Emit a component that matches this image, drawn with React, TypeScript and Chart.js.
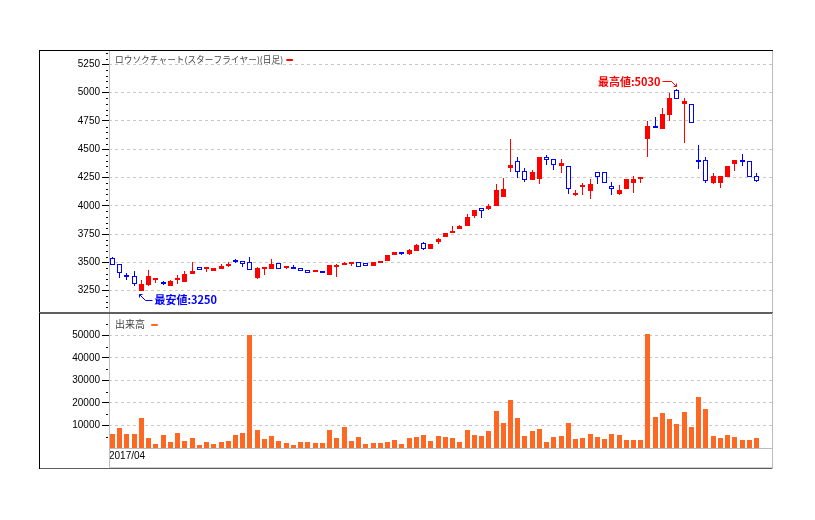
import React, { useEffect, useRef } from 'react';
import { Chart, registerables } from 'chart.js';

Chart.register(...registerables);

// ---- data ----
const opens = [
  3540, 3482, 3385, 3377, 3250, 3297, 3344, 3321, 3291, 3344,
  3327, 3397, 3456, 3447, 3424, 3441, 3474, 3518, 3509, 3500,
  3362, 3447, 3438, 3491, 3447, 3456, 3447, 3430, 3415, 3421,
  3385, 3470, 3488, 3485, 3503, 3491, 3470, 3500, 3515, 3565,
  3592, 3574, 3600, 3671, 3618, 3680, 3725, 3769, 3796, 3822,
  3911, 3982, 3973, 3999, 4079, 4336, 4398, 4310, 4230, 4239,
  4434, 4416, 4354, 4354, 4095, 4167, 4128, 4296, 4296, 4173,
  4101, 4146, 4199, 4235, 4592, 4708, 4682, 4807, 5021, 4899,
  4896, 4408, 4408, 4199, 4199, 4253, 4365, 4408, 4399, 4262,
];
const highs = [
  3545, 3485, 3409, 3421, 3341, 3430, 3362, 3335, 3341, 3388,
  3421, 3500, 3456, 3456, 3447, 3482, 3500, 3527, 3509, 3544,
  3456, 3456, 3527, 3491, 3465, 3474, 3447, 3430, 3430, 3421,
  3474, 3482, 3503, 3503, 3503, 3491, 3503, 3512, 3565, 3592,
  3592, 3618, 3663, 3680, 3663, 3716, 3760, 3822, 3831, 3928,
  3964, 3982, 4017, 4194, 4248, 4593, 4434, 4336, 4319, 4434,
  4451, 4416, 4416, 4354, 4137, 4199, 4235, 4296, 4296, 4208,
  4182, 4235, 4262, 4253, 4753, 4789, 4869, 4994, 5030, 4949,
  4896, 4539, 4434, 4287, 4262, 4356, 4408, 4460, 4399, 4287,
];
const lows = [
  3475, 3365, 3347, 3291, 3250, 3291, 3318, 3297, 3291, 3309,
  3327, 3397, 3432, 3415, 3424, 3441, 3456, 3491, 3456, 3432,
  3353, 3388, 3438, 3438, 3438, 3447, 3427, 3409, 3415, 3406,
  3385, 3368, 3476, 3467, 3462, 3470, 3470, 3494, 3515, 3565,
  3565, 3565, 3600, 3609, 3618, 3663, 3725, 3769, 3796, 3822,
  3893, 3893, 3964, 3999, 4079, 4301, 4248, 4212, 4230, 4194,
  4363, 4319, 4292, 4106, 4086, 4095, 4057, 4190, 4205, 4095,
  4092, 4146, 4110, 4199, 4434, 4684, 4682, 4753, 4946, 4557,
  4729, 4322, 4202, 4190, 4155, 4253, 4304, 4348, 4253, 4208,
];
const closes = [
  3480, 3409, 3375, 3312, 3306, 3377, 3362, 3312, 3335, 3362,
  3394, 3421, 3432, 3456, 3447, 3465, 3482, 3500, 3482, 3432,
  3450, 3456, 3482, 3438, 3465, 3447, 3427, 3409, 3430, 3406,
  3474, 3480, 3497, 3503, 3462, 3470, 3503, 3512, 3565, 3592,
  3574, 3609, 3654, 3618, 3663, 3707, 3760, 3778, 3822, 3902,
  3964, 3958, 3999, 4141, 4150, 4363, 4301, 4230, 4301, 4434,
  4407, 4363, 4381, 4150, 4110, 4182, 4190, 4253, 4205, 4152,
  4137, 4235, 4235, 4253, 4708, 4684, 4815, 4949, 4946, 4923,
  4729, 4394, 4220, 4262, 4262, 4356, 4408, 4394, 4253, 4217,
];
const volumes = [
  6100, 8800, 6100, 6100, 13300, 4300, 1600, 5700, 2500, 6600,
  3000, 4300, 1200, 2500, 1600, 2500, 3000, 5700, 6600, 50300,
  7900, 3900, 5200, 3000, 2100, 1200, 2500, 2500, 2100, 2100,
  7900, 4300, 9300, 3000, 4800, 1600, 2100, 2100, 2500, 3400,
  1600, 4300, 4800, 5700, 3000, 5200, 4800, 4300, 2500, 7900,
  5700, 5200, 7500, 16400, 11000, 21300, 13300, 5200, 7500, 8400,
  2500, 4800, 5200, 11000, 3900, 4300, 6100, 4800, 3900, 6100,
  5700, 3400, 3400, 3400, 50400, 13700, 15500, 12800, 10600, 16000,
  9300, 22700, 17300, 5200, 4300, 5700, 4800, 3400, 3400, 4300,
];
const priceTicks = [3250, 3500, 3750, 4000, 4250, 4500, 4750, 5000, 5250];
const volumeTicks = [10000, 20000, 30000, 40000, 50000];
const dateLabels = ['2017/04'];
const priceLegend = 'ロウソクチャート(スターフライヤー)(日足)';
const volumeLegend = '出来高';
const lowLabel = '最安値';
const highLabel = '最高値';

// ---- layout / style ----
const W = 815;
const H = 520;
const TOP_H = 313;
const FRAME_LEFT = 39;
const PLOT_LEFT = 109;
const PLOT_RIGHT = 772;
const X_MIN = -0.484;
const X_MAX = 91.14;
const PRICE_MIN = 3060;
const PRICE_MAX = 5378;
const VOLUME_MAX = 59500;

const RED = '#ff0000';
const BLUE = '#0000ff';
const ORANGE = '#ff6822';
const GRID = '#c8c8c8';
const AXIS_GRAY = '#bcbcbc';
const DARK = '#5f5f5f';
const TICK_FONT = { family: '"Liberation Sans", Arial, sans-serif', size: 10 };
const JP = '"Noto Sans CJK JP", "Noto Sans", sans-serif';

function yAxisFit(s: any) {
  s.width = PLOT_LEFT;
  s.paddingTop = 0;
  s.paddingBottom = 0;
}

function drawMinorTicks(ctx: CanvasRenderingContext2D, scale: any, step: number, major: number, x: number) {
  ctx.fillStyle = '#000';
  for (let v = Math.ceil(scale.min / step) * step; v <= scale.max; v += step) {
    if (v % major === 0) continue;
    const py = Math.round(scale.getPixelForValue(v));
    ctx.fillRect(x, py, 2, 1);
  }
}

function legendMarker(ctx: CanvasRenderingContext2D, x: number, y: number, color: string) {
  ctx.strokeStyle = color;
  ctx.lineWidth = 2;
  ctx.lineCap = 'round';
  ctx.beginPath();
  ctx.moveTo(x + 1, y);
  ctx.lineTo(x + 6, y);
  ctx.stroke();
  ctx.lineCap = 'butt';
}

// snap bar elements onto whole pixels so candles stay crisp
const pixelSnap = {
  id: 'pixelSnap',
  beforeDatasetsDraw(chart: any) {
    chart.data.datasets.forEach((ds: any, di: number) => {
      const meta = chart.getDatasetMeta(di);
      const minH = ds.minPixelHeight || 1;
      meta.data.forEach((el: any) => {
        el.x = Math.floor(el.x) + 0.5;
        el.y = Math.round(el.y);
        el.base = Math.round(el.base);
        const h = el.base - el.y;
        if (Math.abs(h) < minH) {
          el.base = el.y + (h < 0 ? -minH : minH);
        }
        el.height = el.base - el.y;
      });
    });
  },
};

const pricePlugin = {
  id: 'priceFrame',
  afterDraw(chart: any) {
    const { ctx, chartArea: a, scales } = chart;
    const x = scales.x;
    const y = scales.y;
    ctx.save();
    drawMinorTicks(ctx, y, 50, 250, a.left - 3);

    // frame
    ctx.fillStyle = '#000';
    ctx.fillRect(FRAME_LEFT, a.top, a.right - FRAME_LEFT + 1, 1);
    ctx.fillRect(FRAME_LEFT, a.top, 1, chart.height - a.top);
    ctx.fillStyle = AXIS_GRAY;
    ctx.fillRect(a.left, a.top + 1, 1, chart.height - a.top);
    ctx.fillRect(a.right, a.top + 1, 1, chart.height - a.top);
    ctx.fillStyle = DARK;
    ctx.fillRect(FRAME_LEFT, chart.height - 1, a.right - FRAME_LEFT + 1, 1);

    // legend
    ctx.font = `8.7px ${JP}`;
    ctx.fillStyle = '#444';
    ctx.textAlign = 'left';
    ctx.textBaseline = 'middle';
    ctx.fillText(priceLegend, a.left + 6, a.top + 10);
    const lw = ctx.measureText(priceLegend).width;
    legendMarker(ctx, a.left + 6 + lw + 3, a.top + 10, RED);

    // lowest annotation
    const minLow = Math.min(...lows);
    const li = lows.indexOf(minLow);
    let tx = Math.round(x.getPixelForValue(li)) - 1.5;
    let ty = Math.round(y.getPixelForValue(minLow)) + 3.5;
    ctx.lineWidth = 1;
    ctx.strokeStyle = BLUE;
    ctx.beginPath();
    ctx.moveTo(tx + 3, ty);
    ctx.lineTo(tx, ty);
    ctx.lineTo(tx, ty + 3);
    ctx.stroke();
    ctx.beginPath();
    ctx.moveTo(tx, ty);
    ctx.lineTo(tx + 6, ty + 6);
    ctx.lineTo(tx + 13, ty + 6);
    ctx.stroke();
    ctx.font = `bold 11px ${JP}`;
    ctx.fillStyle = BLUE;
    ctx.textAlign = 'left';
    ctx.fillText(`${lowLabel}:${minLow}`, tx + 15, ty + 5);

    // highest annotation
    const maxHigh = Math.max(...highs);
    const hi = highs.indexOf(maxHigh);
    tx = Math.round(x.getPixelForValue(hi)) - 0.5;
    ty = Math.round(y.getPixelForValue(maxHigh)) - 2.5;
    ctx.strokeStyle = RED;
    ctx.beginPath();
    ctx.moveTo(tx - 3, ty);
    ctx.lineTo(tx, ty);
    ctx.lineTo(tx, ty - 3);
    ctx.stroke();
    ctx.beginPath();
    ctx.moveTo(tx, ty);
    ctx.lineTo(tx - 5, ty - 5);
    ctx.lineTo(tx - 14, ty - 5);
    ctx.stroke();
    ctx.fillStyle = RED;
    ctx.textAlign = 'right';
    ctx.fillText(`${highLabel}:${maxHigh}`, tx - 16, ty - 4.5);
    ctx.restore();
  },
};

const volumePlugin = {
  id: 'volumeFrame',
  afterDraw(chart: any) {
    const { ctx, chartArea: a, scales } = chart;
    const y = scales.y;
    ctx.save();
    drawMinorTicks(ctx, y, 5000, 10000, a.left - 3);

    ctx.fillStyle = DARK;
    ctx.fillRect(FRAME_LEFT, 0, a.right - FRAME_LEFT + 1, 1);
    ctx.fillRect(FRAME_LEFT, a.bottom + 20, a.right - FRAME_LEFT + 1, 1);
    ctx.fillStyle = '#000';
    ctx.fillRect(FRAME_LEFT, 0, 1, a.bottom + 21);
    ctx.fillStyle = AXIS_GRAY;
    ctx.fillRect(a.left, 1, 1, a.bottom + 19);
    ctx.fillRect(a.right, 0, 1, a.bottom + 21);
    ctx.fillRect(a.left, a.bottom, a.right - a.left, 1);
    ctx.fillStyle = '#cfcfcf';
    ctx.fillRect(a.left, a.bottom + 19, a.right - a.left, 1);

    ctx.font = `10px ${JP}`;
    ctx.fillStyle = '#444';
    ctx.textAlign = 'left';
    ctx.textBaseline = 'middle';
    ctx.fillText(volumeLegend, a.left + 6, a.top + 10);
    const lw = ctx.measureText(volumeLegend).width;
    legendMarker(ctx, a.left + 6 + lw + 6, a.top + 11, ORANGE);
    ctx.restore();
  },
};

export default function App() {
  const topRef = useRef<HTMLCanvasElement>(null);
  const bottomRef = useRef<HTMLCanvasElement>(null);

  useEffect(() => {
    const up = opens.map((o, i) => closes[i] >= o);
    const bodyData = opens.map((o, i) => ({ x: i, y: [o, closes[i]] }));
    const wickData = lows.map((l, i) => ({ x: i, y: [l, highs[i]] }));

    const priceChart = new Chart(topRef.current as HTMLCanvasElement, {
      type: 'bar',
      data: {
        datasets: [
          {
            data: bodyData as any,
            backgroundColor: up.map((u) => (u ? RED : '#ffffff')),
            borderColor: up.map((u) => (u ? RED : BLUE)),
            borderWidth: up.map((u) => (u ? 0 : 1)),
            borderSkipped: false,
            barThickness: 5,
            maxBarThickness: 5,
            grouped: false,
            inflateAmount: 0,
            minPixelHeight: 2,
          } as any,
          {
            data: wickData as any,
            backgroundColor: up.map((u) => (u ? RED : BLUE)),
            borderWidth: 0,
            barThickness: 1,
            maxBarThickness: 1,
            grouped: false,
            inflateAmount: 0,
            minPixelHeight: 1,
          } as any,
        ],
      },
      options: {
        responsive: false,
        animation: false,
        devicePixelRatio: 1,
        layout: { padding: { top: 50, right: W - PLOT_RIGHT, bottom: 1, left: 0 } },
        plugins: { legend: { display: false }, tooltip: { enabled: false } },
        scales: {
          x: { type: 'linear', min: X_MIN, max: X_MAX, offset: false, display: false },
          y: {
            min: PRICE_MIN,
            max: PRICE_MAX,
            position: 'left',
            afterFit: yAxisFit,
            afterBuildTicks: (s: any) => {
              s.ticks = priceTicks.map((v) => ({ value: v }));
            },
            ticks: {
              font: TICK_FONT,
              color: '#000',
              padding: 2,
              autoSkip: false,
              callback: (v: any) => String(v),
            },
            grid: { color: GRID, tickColor: '#000', tickLength: 7, drawTicks: true },
            border: { display: false, dash: [3, 3] },
          },
        },
      } as any,
      plugins: [pixelSnap, pricePlugin],
    });

    const volumeChart = new Chart(bottomRef.current as HTMLCanvasElement, {
      type: 'bar',
      data: {
        datasets: [
          {
            data: volumes.map((v, i) => ({ x: i, y: v })) as any,
            backgroundColor: ORANGE,
            borderWidth: 0,
            barThickness: 5,
            maxBarThickness: 5,
            grouped: false,
            inflateAmount: 0,
          } as any,
        ],
      },
      options: {
        responsive: false,
        animation: false,
        devicePixelRatio: 1,
        layout: { padding: { top: 1, right: W - PLOT_RIGHT, bottom: 52, left: 0 } },
        plugins: { legend: { display: false }, tooltip: { enabled: false } },
        scales: {
          x: {
            type: 'linear',
            min: X_MIN,
            max: X_MAX,
            offset: false,
            position: 'bottom',
            afterFit: (s: any) => {
              s.height = 20;
              s.paddingLeft = 0;
              s.paddingRight = 0;
            },
            afterBuildTicks: (s: any) => {
              s.ticks = dateLabels.map(() => ({ value: s.min }));
            },
            ticks: {
              font: TICK_FONT,
              color: '#000',
              padding: 2,
              align: 'start',
              maxRotation: 0,
              autoSkip: false,
              callback: (_v: any, i: number) => dateLabels[i],
            },
            grid: { display: false, drawTicks: false },
            border: { display: false },
          },
          y: {
            min: 0,
            max: VOLUME_MAX,
            position: 'left',
            afterFit: yAxisFit,
            afterBuildTicks: (s: any) => {
              s.ticks = volumeTicks.map((v) => ({ value: v }));
            },
            ticks: {
              font: TICK_FONT,
              color: '#000',
              padding: 2,
              autoSkip: false,
              callback: (v: any) => String(v),
            },
            grid: { color: GRID, tickColor: '#000', tickLength: 7, drawTicks: true },
            border: { display: false, dash: [3, 3] },
          },
        },
      } as any,
      plugins: [pixelSnap, volumePlugin],
    });

    return () => {
      priceChart.destroy();
      volumeChart.destroy();
    };
  }, []);

  return (
    <div style={{ position: 'absolute', left: 0, top: 0, width: W, height: H, background: '#fff' }}>
      <canvas
        ref={topRef}
        width={W}
        height={TOP_H}
        style={{ position: 'absolute', left: 0, top: 0, display: 'block' }}
      />
      <canvas
        ref={bottomRef}
        width={W}
        height={H - TOP_H}
        style={{ position: 'absolute', left: 0, top: TOP_H, display: 'block' }}
      />
    </div>
  );
}
